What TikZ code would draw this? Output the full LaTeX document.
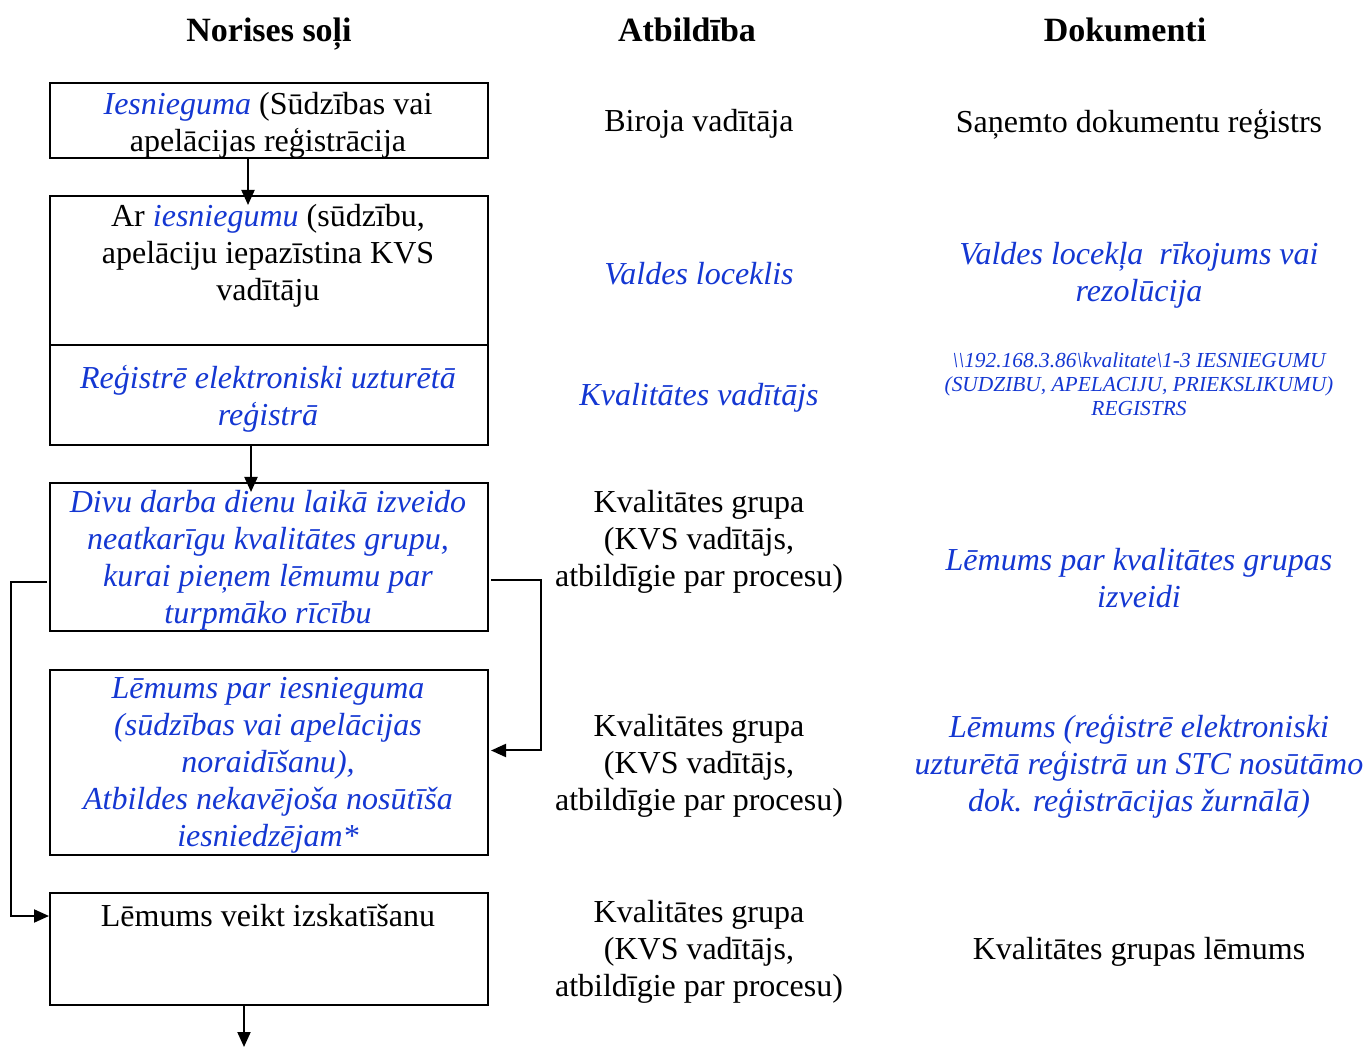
\documentclass[tikz,border=0pt]{standalone}
\usepackage{fontspec}
\setmainfont{Liberation Serif}
\usetikzlibrary{arrows.meta}
\definecolor{blueT}{RGB}{20,55,210}
\tikzset{
  box/.style={draw, line width=1pt, minimum width=219pt, inner sep=0pt},
  txt/.style={align=center, inner sep=0pt, font=\fontsize{16}{18.5}\selectfont},
  btxt/.style={txt, text=blueT, font=\fontsize{16}{18.5}\selectfont\itshape},
  head/.style={inner sep=0pt, anchor=base, font=\fontsize{17}{19}\selectfont\bfseries},
  small/.style={align=center, inner sep=0pt, text=blueT, font=\fontsize{10.7}{12}\selectfont\itshape},
  arr/.style={line width=1pt, -{Triangle[length=7.5pt,width=6.5pt]}},
  ln/.style={line width=1pt}
}
\newcommand{\bl}[1]{\textcolor{blueT}{\textit{#1}}}
\begin{document}
\begin{tikzpicture}[x=0.5pt,y=-0.5pt]
\useasboundingbox (0,0) rectangle (1366,1047);
% headers
\node[head] (h1) at (269,42) {Norises soļi};
\node[head] (h2) at (687,42) {Atbildība};
\node[head] (h3) at (1125,42) {Dokumenti};
% boxes
\node[box, minimum height=37.5pt] (b1) at (269,120.5) {};
\node[box, minimum height=124.5pt] (b2) at (269,320.5) {};
\node[box, minimum height=74pt] (b3) at (269,557) {};
\node[box, minimum height=92.5pt] (b4) at (269,762.5) {};
\node[box, minimum height=56pt] (b5) at (269,949) {};
\coordinate (dv) at (269,345);
\draw[ln] (b2.west |- dv) -- (b2.east |- dv);
% box texts
\node[txt] (t1) at (268,125) {\bl{Iesnieguma} (Sūdzības vai\\apelācijas reģistrācija};
\node[txt] (t2) at (268,256) {Ar \bl{iesniegumu} (sūdzību,\\apelāciju iepazīstina KVS\\vadītāju};
\node[btxt] (t2b) at (268,399) {Reģistrē elektroniski uzturētā\\reģistrā};
\node[btxt] (t3) at (268,560) {Divu darba dienu laikā izveido\\neatkarīgu kvalitātes grupu,\\kurai pieņem lēmumu par\\turpmāko rīcību};
\node[btxt] (t4) at (268,765) {Lēmums par iesnieguma\\(sūdzības vai apelācijas\\noraidīšanu),\\Atbildes nekavējoša nosūtīša\\iesniedzējam*};
\node[txt] (t5) at (268,916) {Lēmums veikt izskatīšanu};
% responsibility column
\node[txt] (r1) at (699,124) {Biroja vadītāja};
\node[btxt] (r2) at (699,274) {Valdes loceklis};
\node[btxt] (r3) at (699,398) {Kvalitātes vadītājs};
\node[txt] (r4) at (699,542) {Kvalitātes grupa\\(KVS vadītājs,\\atbildīgie par procesu)};
\node[txt] (r5) at (699,766) {Kvalitātes grupa\\(KVS vadītājs,\\atbildīgie par procesu)};
\node[txt] (r6) at (699,952) {Kvalitātes grupa\\(KVS vadītājs,\\atbildīgie par procesu)};
% documents column
\node[txt] (d1) at (1139,124) {Saņemto dokumentu reģistrs};
\node[btxt] (d2) at (1139,275) {Valdes locekļa\ \ rīkojums vai\\rezolūcija};
\node[small] (d3) at (1139,384) {\textbackslash\textbackslash 192.168.3.86\textbackslash kvalitate\textbackslash 1-3 IESNIEGUMU\\(SUDZIBU, APELACIJU, PRIEKSLIKUMU)\\REGISTRS};
\node[btxt] (d4) at (1139,578) {Lēmums par kvalitātes grupas\\izveidi};
\node[btxt] (d5) at (1139,766) {Lēmums (reģistrē elektroniski\\uzturētā reģistrā un STC nosūtāmo\\dok. reģistrācijas žurnālā)};
\node[txt] (d6) at (1139,952) {Kvalitātes grupas lēmums};
% connectors
\coordinate (endpt) at (244,1047);
\draw[arr] ([xshift=-10.5pt]b1.south) -- ([xshift=-10.5pt,yshift=-5pt]b2.north);
\draw[arr] ([xshift=-9pt]b2.south) -- ([xshift=-9pt,yshift=-5pt]b3.north);
\draw[arr] ([xshift=1pt,yshift=-11.5pt]b3.east) -- ++(25pt,0) |- ([xshift=1pt,yshift=6pt]b4.east);
\draw[arr] ([xshift=-1pt,yshift=-12.5pt]b3.west) -- ++(-18pt,0) |- ([yshift=16.5pt]b5.west);
\draw[arr] ([xshift=-12.5pt]b5.south) -- (endpt);
\end{tikzpicture}
\end{document}
